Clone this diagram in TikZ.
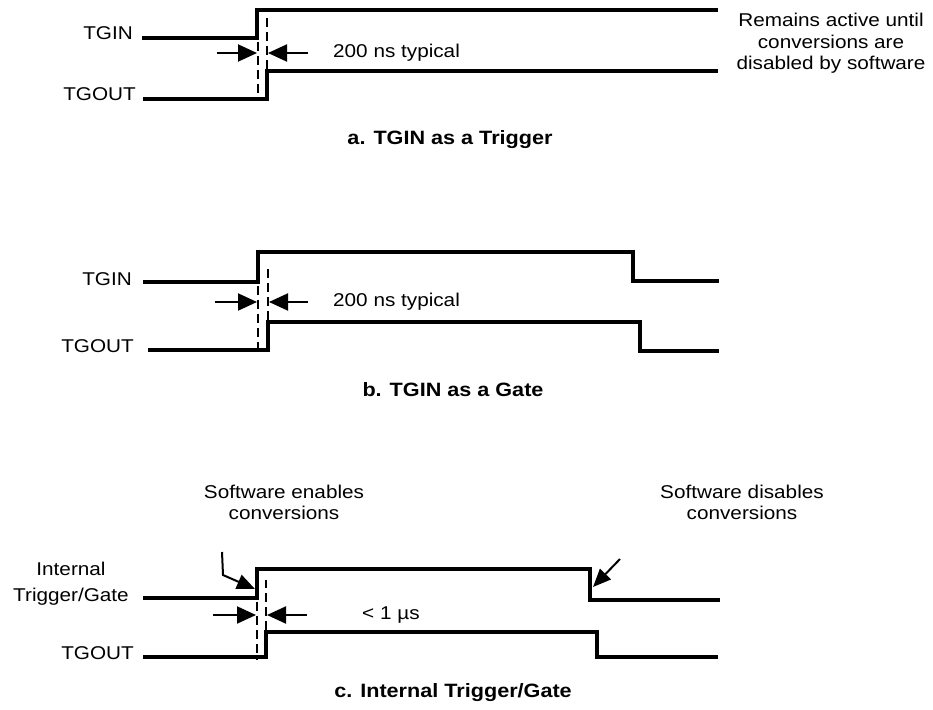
\documentclass[tikz,border=0pt]{standalone}
\usepackage{fontspec}
\setmainfont{Liberation Sans}[FakeStretch=1.12]
\usetikzlibrary{arrows.meta}
\begin{document}
\begin{tikzpicture}[x=1pt,y=-1pt,
  sig/.style={line width=3.2pt, line join=miter},
  guide/.style={line width=2pt, dash pattern=on 9pt off 5pt},
  meas/.style={line width=2pt, -{Triangle[length=19pt,width=17pt]}},
  ptr/.style={line width=2pt, -{Triangle[length=18pt,width=15pt]}},
  lbl/.style={font=\fontsize{18.5}{21}\selectfont, inner sep=0pt},
  note/.style={lbl, align=center},
  captxt/.style={font=\bfseries\fontsize{19.3}{21}\selectfont, inner sep=0pt}]
\useasboundingbox (0,0) rectangle (933,709);
% ---------- a ----------
\node[lbl, anchor=base east] (tginA) at (133,40) {TGIN};
\node[lbl, anchor=base east] (tgoutA) at (136,100) {TGOUT};
\draw[sig] (142,38) -- (257,38) -- (257,10) -- (718,10);
\draw[sig] (143,99) -- (267,99) -- (267,71) -- (718,71);
\draw[guide] (258,42) -- (258,99);
\draw[guide] (267,69) -- (267,16);
\coordinate (aL) at (217,53); \coordinate (aLt) at (257,53);
\coordinate (aR) at (308,53); \coordinate (aRt) at (268,53);
\draw[meas] (aL) -- (aLt);
\draw[meas] (aR) -- (aRt);
\node[lbl, anchor=west] (aTyp) at (333,53) {200 ns typical};
\node[note, anchor=base] (aNote) at (831,69) {Remains active until\\conversions are\\disabled by software};
\node[captxt] (capA) at (450,140) {a. TGIN as a Trigger};
% ---------- b ----------
\node[lbl, anchor=base east] (tginB) at (132,285) {TGIN};
\node[lbl, anchor=base east] (tgoutB) at (134,352) {TGOUT};
\draw[sig] (143,282) -- (258,282) -- (258,252) -- (633,252) -- (633,281) -- (719,281);
\draw[sig] (148,350) -- (268,350) -- (268,322) -- (640,322) -- (640,351) -- (719,351);
\draw[guide] (258,286) -- (258,350);
\draw[guide] (268,320) -- (268,268);
\coordinate (bL) at (215,302); \coordinate (bLt) at (257,302);
\coordinate (bR) at (308,302); \coordinate (bRt) at (269,302);
\draw[meas] (bL) -- (bLt);
\draw[meas] (bR) -- (bRt);
\node[lbl, anchor=west] (bTyp) at (333,302) {200 ns typical};
\node[captxt] (capB) at (453,390) {b. TGIN as a Gate};
% ---------- c ----------
\node[lbl, anchor=base] (intA) at (71,575) {Internal};
\node[lbl, anchor=base] (intB) at (71,601) {Trigger/Gate};
\node[lbl, anchor=base east] (tgoutC) at (134,659) {TGOUT};
\draw[sig] (143,598) -- (257,598) -- (257,569) -- (590,569) -- (590,600) -- (720,600);
\draw[sig] (143,657) -- (266,657) -- (266,632) -- (597,632) -- (597,657) -- (718,657);
\draw[guide] (257,602) -- (257,660);
\draw[guide] (266,630) -- (266,580);
\coordinate (cL) at (213,615); \coordinate (cLt) at (256,615);
\coordinate (cR) at (307,615); \coordinate (cRt) at (267,615);
\draw[meas] (cL) -- (cLt);
\draw[meas] (cR) -- (cRt);
\node[lbl, anchor=west] (cTyp) at (362,615) {< 1 µs};
\node[note, anchor=base] (enab) at (284,519) {Software enables\\conversions};
\node[note, anchor=base] (disab) at (742,519) {Software disables\\conversions};
\coordinate (eS) at (222,552); \coordinate (eK) at (223,575); \coordinate (eT) at (255,589);
\draw[ptr] (eS) -- (eK) -- (eT);
\coordinate (dS) at (620,559); \coordinate (dT) at (593,587);
\draw[ptr] (dS) -- (dT);
\node[captxt] (capC) at (453,693) {c. Internal Trigger/Gate};
\end{tikzpicture}
\end{document}
